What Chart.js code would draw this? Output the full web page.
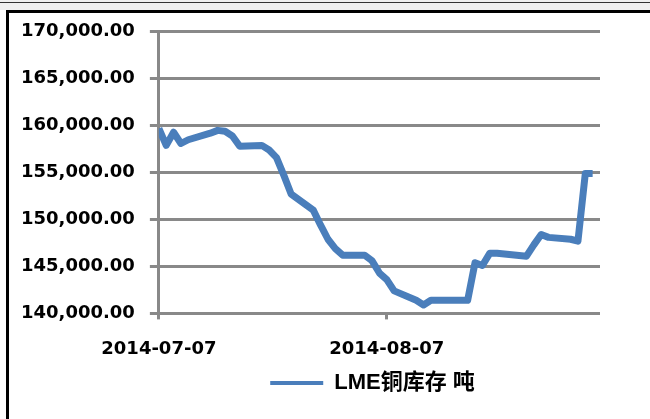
<!DOCTYPE html>
<html>
<head>
<meta charset="utf-8">
<script src="https://cdn.jsdelivr.net/npm/chart.js@4.4.1/dist/chart.umd.min.js"></script>
<style>
  html, body { margin: 0; padding: 0; width: 650px; height: 419px; overflow: hidden; background: #ffffff; position: relative; }
  #topstrip { position: absolute; left: 0; top: 0; width: 650px; height: 10px; background: #f0f0f0; z-index: 2; }
  #thin { position: absolute; left: 0; top: 2px; width: 650px; height: 1px; background: #333; z-index: 3; }
  #topborder { position: absolute; left: 6px; top: 10px; width: 644px; height: 3px; background: #000; z-index: 3; }
  #leftborder { position: absolute; left: 6px; top: 10px; width: 3px; height: 409px; background: #000; z-index: 3; }
  #wrap { position: absolute; left: 6px; top: 6px; width: 733px; height: 413px; z-index: 1; }
</style>
</head>
<body>
<div id="topstrip"></div>
<div id="thin"></div>
<div id="topborder"></div>
<div id="leftborder"></div>
<div id="wrap"><canvas id="c"></canvas></div>
<script>
const seriesName = 'LME铜库存 吨';
const dates = ['2014-07-07','2014-07-08','2014-07-09','2014-07-10','2014-07-11','2014-07-14','2014-07-15','2014-07-16','2014-07-17','2014-07-18','2014-07-21','2014-07-22','2014-07-23','2014-07-24','2014-07-25','2014-07-28','2014-07-29','2014-07-30','2014-07-31','2014-08-01','2014-08-04','2014-08-05','2014-08-06','2014-08-07','2014-08-08','2014-08-11','2014-08-12','2014-08-13','2014-08-14','2014-08-15','2014-08-18','2014-08-19','2014-08-20','2014-08-21','2014-08-22','2014-08-26','2014-08-27','2014-08-28','2014-08-29','2014-09-01','2014-09-02','2014-09-03','2014-09-04'];
const stocks = [159700,157900,159300,158100,158500,159200,159500,159400,158900,157800,157900,157400,156600,154700,152700,151000,149400,147900,146900,146200,146200,145600,144300,143600,142400,141400,140900,141400,141400,141400,141400,145400,145100,146400,146400,146100,147300,148400,148100,147900,147700,154900,154900];
const xTickLabels = ['2014-07-07','2014-08-07'];
const axisEnd = '2014-09-05';
const yMin = 140000, yMax = 170000, yStep = 5000;

const DAY = 86400000;
const t0 = Date.parse(dates[0]);
const dayOf = s => Math.round((Date.parse(s) - t0) / DAY);
const labelOf = d => new Date(t0 + d * DAY).toISOString().slice(0, 10);

const points = dates.map((d, i) => ({ x: dayOf(d), y: stocks[i] }));
const tickDays = xTickLabels.map(dayOf);

const grey = '#898989';
const font = { family: "'DejaVu Sans', 'Noto Sans CJK SC', sans-serif", size: 18, weight: 'bold' };
const xTickPadding = 19;

new Chart(document.getElementById('c'), {
  type: 'line',
  data: {
    datasets: [{
      label: seriesName,
      data: points,
      borderColor: '#4a7ebb',
      backgroundColor: '#4a7ebb',
      borderWidth: 7,
      pointRadius: 0,
      tension: 0,
      borderJoinStyle: 'round',
      borderCapStyle: 'butt'
    }]
  },
  options: {
    responsive: true,
    maintainAspectRatio: false,
    animation: false,
    events: [],
    layout: { padding: { top: 6, left: 0, right: 0, bottom: 15 } },
    plugins: {
      tooltip: { enabled: false },
      legend: {
        position: 'bottom',
        labels: {
          color: '#000',
          font: { family: "'Liberation Sans', 'Noto Sans CJK SC', sans-serif", size: 22, weight: 'bold' },
          boxWidth: 53,
          boxHeight: 0,
          padding: 12,
          generateLabels: chart => chart.data.datasets.map((ds, i) => ({
            text: ds.label, strokeStyle: ds.borderColor, fillStyle: ds.borderColor,
            lineWidth: 4, datasetIndex: i, fontColor: '#000'
          }))
        }
      }
    },
    scales: {
      x: {
        type: 'linear',
        min: 0,
        max: dayOf(axisEnd),
        afterBuildTicks: axis => { axis.ticks = tickDays.map(v => ({ value: v })); },
        afterFit: axis => { axis.height -= xTickPadding; },
        ticks: { color: '#000', font: font, padding: xTickPadding, maxRotation: 0, autoSkip: false, callback: v => labelOf(v) },
        grid: { drawOnChartArea: false, drawTicks: true, tickLength: 6, color: grey, lineWidth: 3 },
        border: { display: false }
      },
      y: {
        min: yMin,
        max: yMax,
        ticks: { stepSize: yStep, color: '#000', font: font, padding: 15,
          callback: v => v.toLocaleString('en-US', { minimumFractionDigits: 2, maximumFractionDigits: 2 }) },
        grid: { color: grey, lineWidth: 3, tickLength: 9 },
        border: { display: true, color: grey, width: 3 }
      },
      spacer: {
        position: 'right',
        display: true,
        ticks: { display: false },
        grid: { display: false, drawTicks: false },
        border: { display: false },
        afterFit: axis => { axis.width = 139; }
      }
    }
  }
});
</script>
</body>
</html>
